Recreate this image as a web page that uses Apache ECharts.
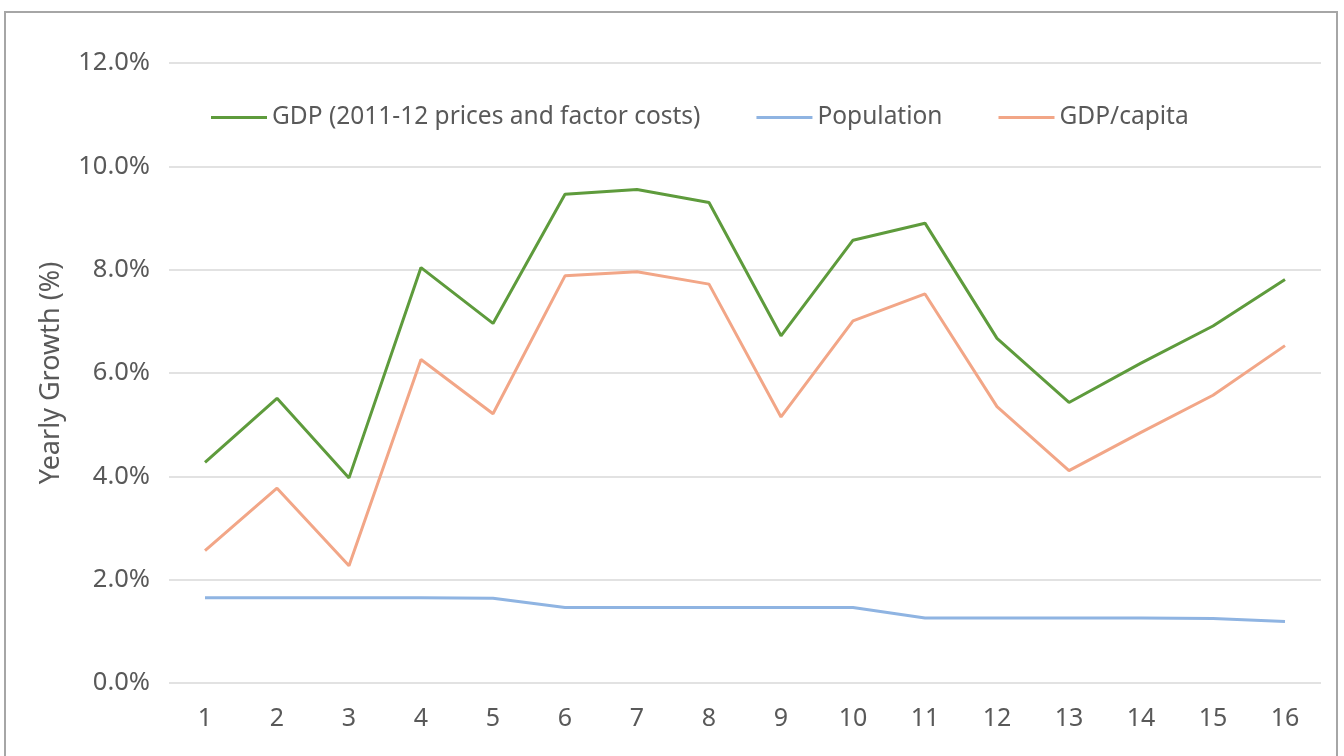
<!DOCTYPE html>
<html>
<head>
<meta charset="utf-8">
<script src="https://cdn.jsdelivr.net/npm/echarts@6/dist/echarts.min.js"></script>
<style>
  html, body { margin: 0; padding: 0; background: #fff; }
  #chart { width: 1344px; height: 756px; position: relative; }
  /* outer chart-area frame, runs past the bottom edge */
  #frame {
    position: absolute; left: 4px; top: 11px; width: 1334px; height: 800px;
    border: 2px solid #a6a6a6; box-sizing: border-box; pointer-events: none;
  }
</style>
</head>
<body>
<div id="chart"></div>
<div id="frame"></div>
<script>
// years 1..16
const categories = ["1", "2", "3", "4", "5", "6", "7", "8", "9", "10", "11", "12", "13", "14", "15", "16"];
// yearly growth in %
const gdpGrowth = [4.27, 5.51, 3.97, 8.04, 6.96, 9.46, 9.55, 9.30, 6.72, 8.57, 8.90, 6.67, 5.43, 6.19, 6.91, 7.81];
const popGrowth = [1.65, 1.65, 1.65, 1.65, 1.64, 1.46, 1.46, 1.46, 1.46, 1.46, 1.26, 1.26, 1.26, 1.26, 1.25, 1.19];
const perCapitaGrowth = [2.56, 3.77, 2.27, 6.26, 5.21, 7.88, 7.96, 7.72, 5.15, 7.01, 7.53, 5.35, 4.11, 4.85, 5.57, 6.53];
const seriesNames = ["GDP (2011-12 prices and factor costs)", "Population", "GDP/capita"];

const font = '"Noto Sans", sans-serif';
const textColor = "#595959";

const chart = echarts.init(document.getElementById("chart"));
chart.setOption({
  animation: false,
  color: ["#5e9b3c", "#8fb4e2", "#f2a687"],
  textStyle: { fontFamily: font },
  grid: { left: 169, right: 23, top: 63, bottom: 73 },
  legend: {
    left: 211,
    top: 105,
    padding: 0,
    icon: "rect",
    itemWidth: 56,
    itemHeight: 3,
    itemGap: 56,
    textStyle: { color: textColor, fontSize: 24.5, fontFamily: font },
    data: seriesNames
  },
  xAxis: {
    type: "category",
    data: categories,
    boundaryGap: true,
    axisLine: { show: false },
    axisTick: { show: false },
    axisLabel: { color: textColor, fontSize: 25, margin: 23 }
  },
  yAxis: {
    type: "value",
    min: 0,
    max: 12,
    interval: 2,
    name: "Yearly Growth (%)",
    nameLocation: "middle",
    nameRotate: 90,
    nameGap: 104,
    nameTextStyle: { color: textColor, fontSize: 27 },
    axisLine: { show: false },
    axisTick: { show: false },
    axisLabel: {
      color: textColor,
      fontSize: 25.5,
      margin: 19,
      formatter: function (v) { return v.toFixed(1) + "%"; }
    },
    splitLine: { lineStyle: { color: "#d9d9d9", width: 1.5 } }
  },
  series: [
    { name: seriesNames[0], type: "line", data: gdpGrowth, showSymbol: false, lineStyle: { width: 3 } },
    { name: seriesNames[1], type: "line", data: popGrowth, showSymbol: false, lineStyle: { width: 3 } },
    { name: seriesNames[2], type: "line", data: perCapitaGrowth, showSymbol: false, lineStyle: { width: 3 } }
  ]
});
</script>
</body>
</html>
